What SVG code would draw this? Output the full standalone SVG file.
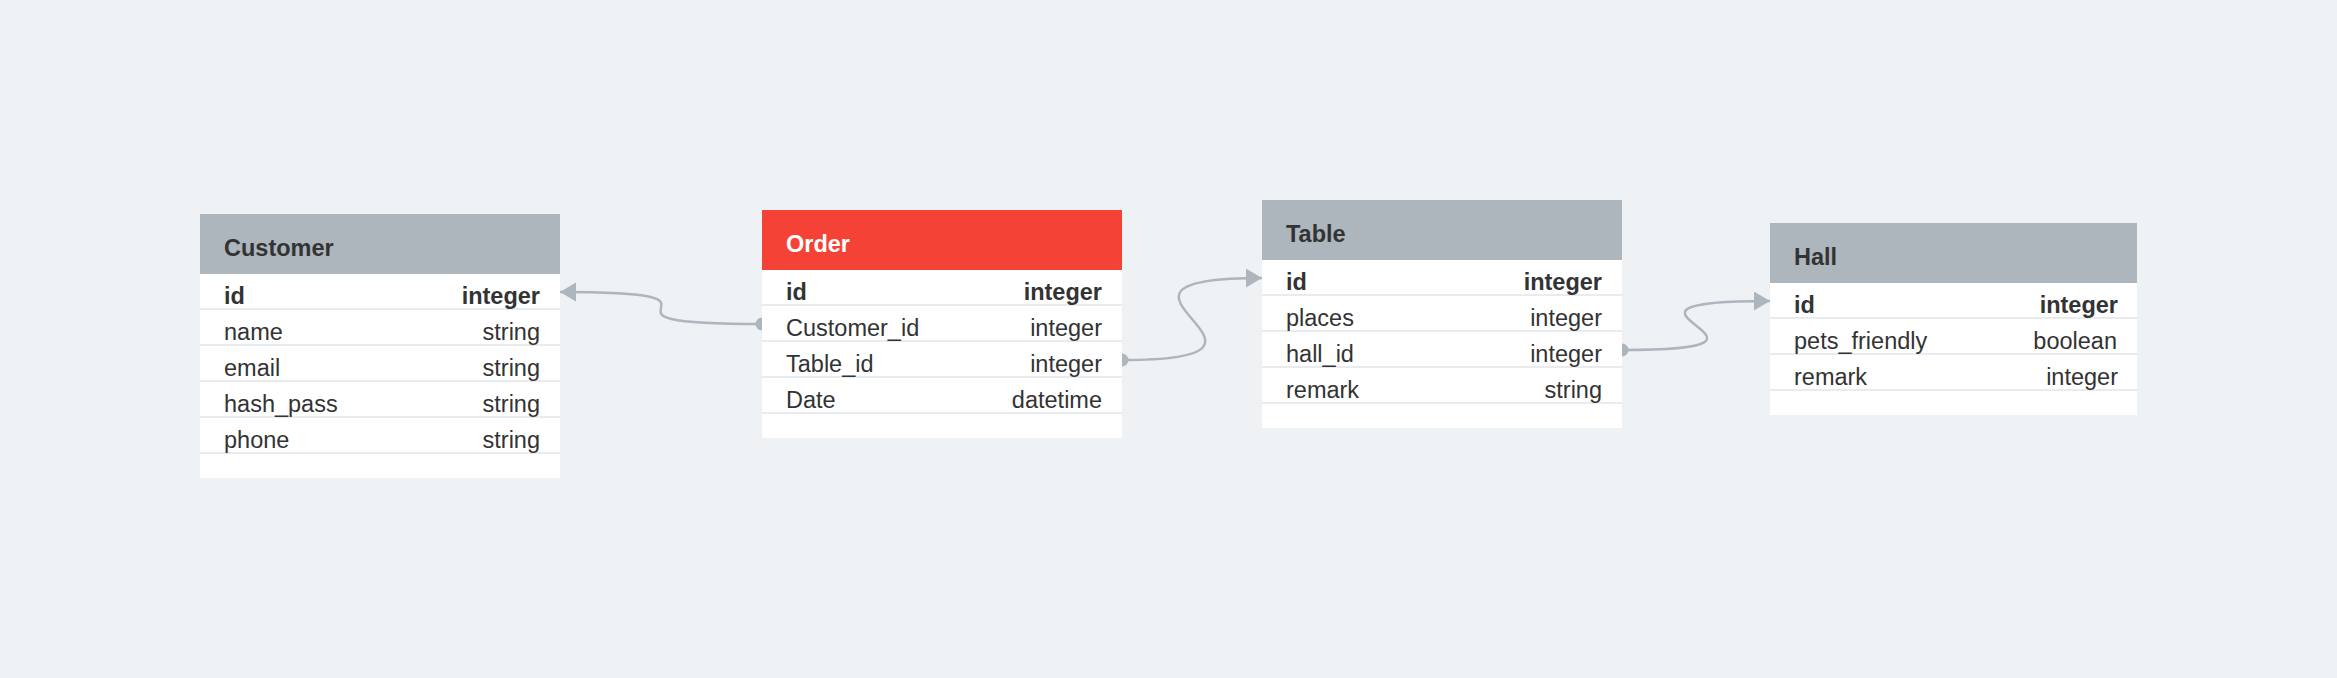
<svg xmlns="http://www.w3.org/2000/svg" width="2337" height="678" viewBox="0 0 2337 678">
<defs>
<style>
.bg{fill:#eef2f5}
.body{fill:#ffffff}
.hdr{fill:#adb5bd}
.hdr-red{fill:#f44336}
.sep{stroke:#e9ecef;stroke-width:2}
.t{font-family:"Liberation Sans",Arial,Helvetica,sans-serif;font-size:23.5px;fill:#333333}
.b{font-weight:bold}
.title{font-family:"Liberation Sans",Arial,Helvetica,sans-serif;font-size:23.5px;font-weight:bold;fill:#333333}
.title-w{fill:#ffffff}
.r{text-anchor:end}
.conn{fill:none;stroke:#adb5bd;stroke-width:2.5}
</style>
<marker id="arrow" markerUnits="userSpaceOnUse" markerWidth="18" markerHeight="20" refX="16" refY="9.5" orient="auto">
<path d="M0,0 L16,9.5 L0,19 Z" fill="#adb5bd"/>
</marker>
<marker id="dot" markerUnits="userSpaceOnUse" markerWidth="14" markerHeight="14" refX="7" refY="7" orient="auto">
<circle cx="7" cy="7" r="6.5" fill="#adb5bd"/>
</marker>
</defs>
<rect class="bg" x="0" y="0" width="2337" height="678"/>

<g id="connectors">
<path class="conn" d="M762,324 C552,324 770,292 560,292" marker-start="url(#dot)" marker-end="url(#arrow)"/>
<path class="conn" d="M1122,360 C1332,360 1052,278 1262,278" marker-start="url(#dot)" marker-end="url(#arrow)"/>
<path class="conn" d="M1622,350 C1832,350 1560,301 1770,301" marker-start="url(#dot)" marker-end="url(#arrow)"/>
</g>

<g id="customer">
<rect class="body" x="200" y="214" width="360" height="264"/>
<rect class="hdr" x="200" y="214" width="360" height="60"/>
<text class="title" x="224" y="255.5">Customer</text>
<line class="sep" x1="200" y1="309" x2="560" y2="309"/>
<line class="sep" x1="200" y1="345" x2="560" y2="345"/>
<line class="sep" x1="200" y1="381" x2="560" y2="381"/>
<line class="sep" x1="200" y1="417" x2="560" y2="417"/>
<line class="sep" x1="200" y1="453" x2="560" y2="453"/>
<text class="t b" x="224" y="303.5">id</text><text class="t b r" x="540" y="303.5">integer</text>
<text class="t" x="224" y="339.5">name</text><text class="t r" x="540" y="339.5">string</text>
<text class="t" x="224" y="375.5">email</text><text class="t r" x="540" y="375.5">string</text>
<text class="t" x="224" y="411.5">hash_pass</text><text class="t r" x="540" y="411.5">string</text>
<text class="t" x="224" y="447.5">phone</text><text class="t r" x="540" y="447.5">string</text>
</g>

<g id="order">
<rect class="body" x="762" y="210" width="360" height="228"/>
<rect class="hdr-red" x="762" y="210" width="360" height="60"/>
<text class="title title-w" x="786" y="251.5">Order</text>
<line class="sep" x1="762" y1="305" x2="1122" y2="305"/>
<line class="sep" x1="762" y1="341" x2="1122" y2="341"/>
<line class="sep" x1="762" y1="377" x2="1122" y2="377"/>
<line class="sep" x1="762" y1="413" x2="1122" y2="413"/>
<text class="t b" x="786" y="299.5">id</text><text class="t b r" x="1102" y="299.5">integer</text>
<text class="t" x="786" y="335.5">Customer_id</text><text class="t r" x="1102" y="335.5">integer</text>
<text class="t" x="786" y="371.5">Table_id</text><text class="t r" x="1102" y="371.5">integer</text>
<text class="t" x="786" y="407.5">Date</text><text class="t r" x="1102" y="407.5">datetime</text>
</g>

<g id="table">
<rect class="body" x="1262" y="200" width="360" height="228"/>
<rect class="hdr" x="1262" y="200" width="360" height="60"/>
<text class="title" x="1286" y="241.5">Table</text>
<line class="sep" x1="1262" y1="295" x2="1622" y2="295"/>
<line class="sep" x1="1262" y1="331" x2="1622" y2="331"/>
<line class="sep" x1="1262" y1="367" x2="1622" y2="367"/>
<line class="sep" x1="1262" y1="403" x2="1622" y2="403"/>
<text class="t b" x="1286" y="289.5">id</text><text class="t b r" x="1602" y="289.5">integer</text>
<text class="t" x="1286" y="325.5">places</text><text class="t r" x="1602" y="325.5">integer</text>
<text class="t" x="1286" y="361.5">hall_id</text><text class="t r" x="1602" y="361.5">integer</text>
<text class="t" x="1286" y="397.5">remark</text><text class="t r" x="1602" y="397.5">string</text>
</g>

<g id="hall">
<rect class="body" x="1770" y="223" width="367" height="192"/>
<rect class="hdr" x="1770" y="223" width="367" height="60"/>
<text class="title" x="1794" y="264.5">Hall</text>
<line class="sep" x1="1770" y1="318" x2="2137" y2="318"/>
<line class="sep" x1="1770" y1="354" x2="2137" y2="354"/>
<line class="sep" x1="1770" y1="390" x2="2137" y2="390"/>
<text class="t b" x="1794" y="312.5">id</text><text class="t b r" x="2118" y="312.5">integer</text>
<text class="t" x="1794" y="348.5">pets_friendly</text><text class="t r" x="2117" y="348.5">boolean</text>
<text class="t" x="1794" y="384.5">remark</text><text class="t r" x="2118" y="384.5">integer</text>
</g>
</svg>
